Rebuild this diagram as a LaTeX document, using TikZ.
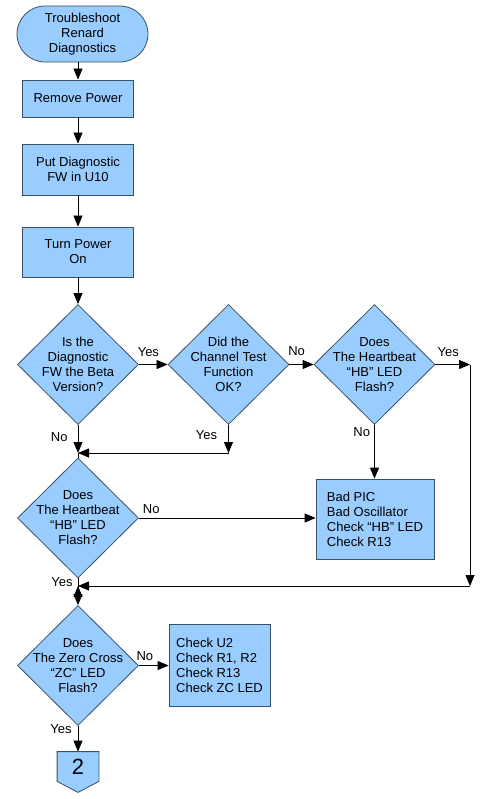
\documentclass[tikz,border=0pt]{standalone}
\usepackage{fontspec}
\setmainfont{Liberation Sans}
\usetikzlibrary{positioning, shapes.geometric, arrows.meta}
\definecolor{chartblue}{RGB}{153,204,255}
\definecolor{chartedge}{RGB}{60,80,100}
\tikzset{
>={Triangle[length=11pt,width=9pt]}, % filled arrow heads
every node/.style={font=\fontsize{13}{15}\selectfont}, % text size of the whole chart
chart/.style={draw=chartedge, fill=chartblue, line width=0.8pt}, % look of every shape
terminal/.style={chart, rounded corners=28pt, minimum width=131pt, minimum height=56pt, align=center},
process/.style={chart, minimum width=111pt, inner sep=0pt, align=center},
decision/.style={chart, diamond, minimum width=121pt, minimum height=120pt, inner sep=0pt},
remedy/.style={chart, align=left}, % boxes that list what to check
answer/.style={inner sep=1pt}, % the Yes / No labels
}

\begin{document}
\begin{tikzpicture}[x=1pt, y=-1pt, line width=0.8pt]
    \useasboundingbox (0,0) rectangle (487,799);

    \node[terminal] (start) at (82.5,34) {Troubleshoot\\Renard\\Diagnostics};
    \node[process, minimum height=37pt] (rm) at (78,98.5) {Remove Power};
    \node[process, minimum height=51pt] (put) at (78,169.5) {Put Diagnostic\\FW in U10};
    \node[process, minimum height=50pt] (on) at (78,252) {Turn Power\\On};

    \node[decision, label={[align=center]center:{Is the\\Diagnostic\\FW the Beta\\Version?}}] (beta) at (78,364.5) {};
    \node[decision, label={[align=center]center:{Did the\\Channel Test\\Function\\OK?}}] (chan) at (228.5,364.5) {};
    \node[decision, label={[align=center]center:{Does\\The Heartbeat\\“HB” LED\\Flash?}}] (hbtop) at (374.5,364.5) {};
    \node[decision, label={[align=center]center:{Does\\The Heartbeat\\“HB” LED\\Flash?}}] (hb) at (78,518) {};
    \node[decision, label={[align=center]center:{Does\\The Zero Cross\\“ZC” LED\\Flash?}}] (zc) at (78,665.5) {};

    \node[remedy, minimum width=118pt, minimum height=80pt] (badpic) at (375,519) {Bad PIC\\Bad Oscillator\\Check “HB” LED\\Check R13};
    \node[remedy, minimum width=101pt, minimum height=82pt] (checkzc) at (219.5,665) {Check U2\\Check R1, R2\\Check R13\\Check ZC LED};

    \node[minimum width=41pt, minimum height=29pt, inner sep=0pt] (page2) at (78,766.5) {};
    \draw[chart] (page2.north west) -- (page2.north east) -- (page2.south east)
        -- ([yshift=-11pt]page2.south) -- (page2.south west) -- cycle;
    \node[font=\fontsize{22}{24}\selectfont] (page2num) at (page2) {2};

    \coordinate (yesturn) at (470,364.5);
    \coordinate (yesdown) at (470,586);
    \coordinate (joinzc) at (78,586);
    \coordinate (chanyes) at (228.5,453);
    \coordinate (joinhb) at (78,453);

    \draw[->] (start.south -| rm.north) edge (rm)
        (rm) edge (put)
        (put) edge (on)
        (on) edge (beta)
        (beta) edge node[answer, pos=0.33, above=6pt]{Yes} (chan)
        (chan) edge node[answer, pos=0.3, above=7pt]{No} (hbtop)
        (hbtop) edge node[answer, pos=0.37, above=6pt]{Yes} (yesturn)
        (yesturn) edge (yesdown)
        (yesdown) edge (joinzc)
        (beta) edge node[answer, pos=0.45, left=9pt]{No} (joinhb)
        (chan) edge node[answer, pos=0.35, left=10pt]{Yes} (chanyes)
        (chanyes) edge (joinhb)
        (hbtop) edge node[answer, pos=0.13, left=3pt]{No} (hbtop.south |- badpic.north)
        (hb) edge node[answer, pos=0.07, above=3pt]{No} (hb.east -| badpic.west)
        (joinzc) edge (zc)
        (zc) edge node[answer, pos=0.2, above=3pt]{No} (zc.east -| checkzc.west)
        (zc) edge node[answer, pos=0.12, left=5pt]{Yes} (page2);

    \draw (joinhb) -- (hb.north);
    \draw (hb.south) -- node[answer, left=4pt]{Yes} (joinzc);
\end{tikzpicture}
\end{document}
